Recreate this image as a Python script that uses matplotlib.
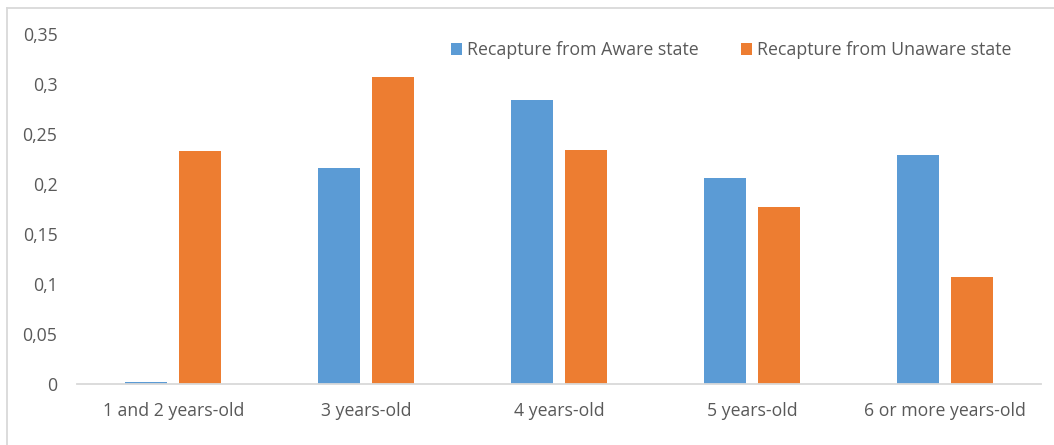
import matplotlib.pyplot as plt
import numpy as np
from matplotlib.lines import Line2D
from matplotlib.ticker import FuncFormatter

categories = ['1 and 2 years-old', '3 years-old', '4 years-old',
              '5 years-old', '6 or more years-old']
aware = [0.002, 0.216, 0.284, 0.206, 0.229]
unaware = [0.233, 0.307, 0.234, 0.177, 0.107]
series_names = ['Recapture from Aware state', 'Recapture from Unaware state']

blue = '#5b9bd5'
orange = '#ed7d31'
grey_text = '#595959'

plt.rcParams['font.family'] = ['Open Sans', 'DejaVu Sans']

fig = plt.figure(figsize=(10.54, 4.45), dpi=100)
ax = fig.add_axes([0.073, 0.137, 0.915, 0.7866])

x = np.arange(len(categories))
w = 0.218
off = 0.14
ax.bar(x - off, aware, w, color=blue, label=series_names[0])
ax.bar(x + off, unaware, w, color=orange, label=series_names[1])

ax.set_xlim(-0.5, len(categories) - 0.5)
ax.set_ylim(0, 0.35)
ax.set_yticks(np.arange(0, 0.351, 0.05))
ax.yaxis.set_major_formatter(FuncFormatter(
    lambda v, p: '0' if abs(v) < 1e-9 else ('%.2f' % v).rstrip('0').replace('.', ',')))
ax.set_xticks(x)
ax.set_xticklabels(categories)

for s in ['top', 'right', 'left']:
    ax.spines[s].set_visible(False)
ax.spines['bottom'].set_color('#d9d9d9')
ax.spines['bottom'].set_linewidth(1.3)
ax.tick_params(axis='both', length=0, labelsize=12.7, labelcolor=grey_text)
ax.tick_params(axis='x', pad=13)
ax.tick_params(axis='y', pad=14)

leg = ax.legend(loc='center left', bbox_to_anchor=(0.388, 0.954), ncol=2,
                frameon=False, fontsize=12.8, handlelength=0.62,
                handleheight=0.62, handletextpad=0.28, columnspacing=2.4,
                borderaxespad=0, borderpad=0)
for t in leg.get_texts():
    t.set_color(grey_text)

# thin frame on the top and left edges
fig.add_artist(Line2D([0.007, 1.0], [0.982, 0.982], transform=fig.transFigure,
                      color='#d9d9d9', lw=1.3))
fig.add_artist(Line2D([0.007, 0.007], [0.0, 0.982], transform=fig.transFigure,
                      color='#d9d9d9', lw=1.3))

fig.savefig('out.png', dpi=100)
